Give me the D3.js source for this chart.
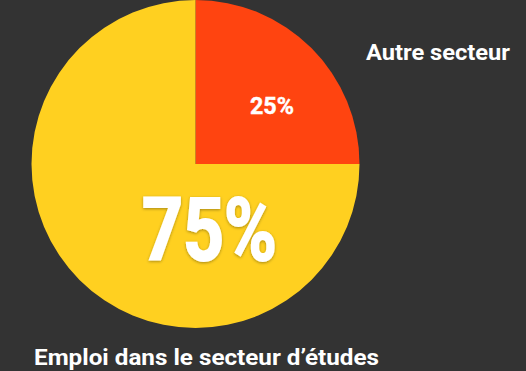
<html>
<head>
<script src="https://d3js.org/d3.v7.min.js"></script>
<style>
  body { margin: 0; background: #333333; }
  svg { display: block; }
  text { font-family: Roboto, "Noto Sans", sans-serif; font-weight: 700; fill: #ffffff; }
</style>
</head>
<body>
<svg width="526" height="371"></svg>
<script>
// data
const categories = ['Autre secteur', 'Emploi dans le secteur d\u2019études'];
const values = [25, 75];
const pctLabels = ['25%', '75%'];
const colors = ['#ff4410', '#ffd020'];

const svg = d3.select('svg');
const cx = 195.5, cy = 164, radius = 164;

const defs = svg.append('defs');
const f = defs.append('filter').attr('id', 'shadow')
    .attr('x', '-20%').attr('y', '-20%').attr('width', '140%').attr('height', '140%');
f.append('feDropShadow').attr('dx', 0).attr('dy', 1).attr('stdDeviation', 1.5)
    .attr('flood-color', '#000').attr('flood-opacity', 0.35);

const pie = d3.pie().sort(null).value(d => d);
const arcs = pie(values);
const arc = d3.arc().innerRadius(0).outerRadius(radius);

const g = svg.append('g').attr('transform', `translate(${cx},${cy})`);

g.selectAll('path.slice').data(arcs)
  .join('path')
    .attr('class', 'slice')
    .attr('d', arc)
    .attr('fill', (d, i) => colors[i]);

// small percent label in the red slice
const cSmall = arc.centroid(arcs[0]);
g.append('text')
    .attr('x', cSmall[0] + 18.5).attr('y', cSmall[1] + 8)
    .attr('text-anchor', 'middle')
    .attr('font-size', 23)
    .attr('stroke', '#fff').attr('stroke-width', 0.4)
    .attr('textLength', 44).attr('lengthAdjust', 'spacingAndGlyphs')
    .text(pctLabels[0]);

// big percent label in the yellow slice
g.append('text')
    .attr('x', 14).attr('y', 96)
    .attr('text-anchor', 'middle')
    .attr('font-size', 87)
    .attr('stroke', '#fff').attr('stroke-width', 2)
    .attr('textLength', 135).attr('lengthAdjust', 'spacingAndGlyphs')
    .attr('filter', 'url(#shadow)')
    .text(pctLabels[1]);

// category labels
svg.append('text')
    .attr('x', 366).attr('y', 59.5)
    .attr('font-size', 22)
    .attr('textLength', 144).attr('lengthAdjust', 'spacingAndGlyphs')
    .text(categories[0]);

svg.append('text')
    .attr('x', 34).attr('y', 365)
    .attr('font-size', 22.5)
    .attr('textLength', 345).attr('lengthAdjust', 'spacingAndGlyphs')
    .text(categories[1]);
</script>
</body>
</html>
